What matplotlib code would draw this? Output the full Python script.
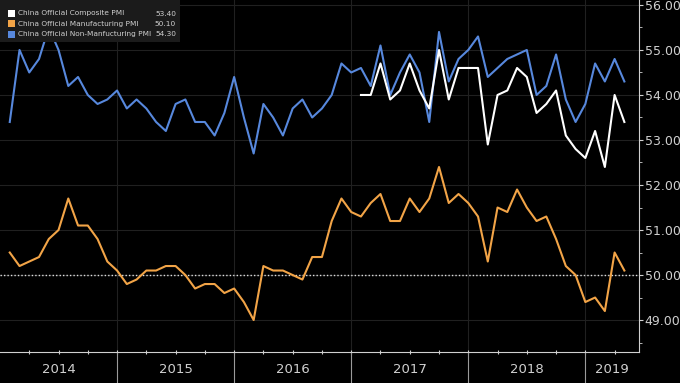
"""China official PMI readings, 2014 - Apr 2019 (Bloomberg style)."""
import numpy as np
import matplotlib
matplotlib.use("Agg")
import matplotlib.pyplot as plt
import matplotlib.transforms as mtransforms
from matplotlib.patches import Rectangle

# monthly readings, Jan 2014 .. Apr 2019
non_manufacturing = [
    53.4, 55.0, 54.5, 54.8, 55.5, 55.0, 54.2, 54.4, 54.0, 53.8, 53.9, 54.1,
    53.7, 53.9, 53.7, 53.4, 53.2, 53.8, 53.9, 53.4, 53.4, 53.1, 53.6, 54.4,
    53.5, 52.7, 53.8, 53.5, 53.1, 53.7, 53.9, 53.5, 53.7, 54.0, 54.7, 54.5,
    54.6, 54.2, 55.1, 54.0, 54.5, 54.9, 54.5, 53.4, 55.4, 54.3, 54.8, 55.0,
    55.3, 54.4, 54.6, 54.8, 54.9, 55.0, 54.0, 54.2, 54.9, 53.9, 53.4, 53.8,
    54.7, 54.3, 54.8, 54.3,
]
manufacturing = [
    50.5, 50.2, 50.3, 50.4, 50.8, 51.0, 51.7, 51.1, 51.1, 50.8, 50.3, 50.1,
    49.8, 49.9, 50.1, 50.1, 50.2, 50.2, 50.0, 49.7, 49.8, 49.8, 49.6, 49.7,
    49.4, 49.0, 50.2, 50.1, 50.1, 50.0, 49.9, 50.4, 50.4, 51.2, 51.7, 51.4,
    51.3, 51.6, 51.8, 51.2, 51.2, 51.7, 51.4, 51.7, 52.4, 51.6, 51.8, 51.6,
    51.3, 50.3, 51.5, 51.4, 51.9, 51.5, 51.2, 51.3, 50.8, 50.2, 50.0, 49.4,
    49.5, 49.2, 50.5, 50.1,
]
# composite only published from Jan 2017
composite = [
    54.0, 54.0, 54.7, 53.9, 54.1, 54.7, 54.1, 53.7, 55.0, 53.9, 54.6, 54.6,
    54.6, 52.9, 54.0, 54.1, 54.6, 54.4, 53.6, 53.8, 54.1, 53.1, 52.8, 52.6,
    53.2, 52.4, 54.0, 53.4,
]
years = ["2014", "2015", "2016", "2017", "2018", "2019"]
y_ticks = [49, 50, 51, 52, 53, 54, 55, 56]

WHITE = "#ffffff"
ORANGE = "#f2a447"
BLUE = "#5788dd"
GRID = "#202020"
TXT = "#d0d0d0"

months = np.arange(1, len(non_manufacturing) + 1)
comp_months = months[len(months) - len(composite):]

fig = plt.figure(figsize=(6.8, 3.83), dpi=100, facecolor="black")
ax = fig.add_axes([0.0, 31 / 383, 639 / 680, 352 / 383])
ax.set_facecolor("black")

ax.plot(comp_months, composite, color=WHITE, lw=1.5, zorder=4)
ax.plot(months, manufacturing, color=ORANGE, lw=1.5, zorder=3)
ax.plot(months, non_manufacturing, color=BLUE, lw=1.5, zorder=3)
ax.axhline(50, color="#dddddd", lw=1.0, ls=(0, (1, 1.5)), zorder=2)

ax.set_xlim(0, 65.5)
ax.set_ylim(48.29, 56.11)

# grid
for v in y_ticks:
    ax.axhline(v, color=GRID, lw=0.8, zorder=1)
for b in range(12, 66, 12):
    ax.axvline(b, color=GRID, lw=0.8, zorder=1)

# right axis
ax.yaxis.tick_right()
ax.set_yticks(y_ticks)
ax.set_yticks(np.arange(48.5, 56.1, 1.0), minor=True)
ax.set_yticklabels([f"{v:.2f}" for v in y_ticks])
ax.tick_params(axis="y", which="major", colors=TXT, labelsize=9, length=3,
               direction="out", pad=1, labelcolor=TXT)
ax.tick_params(axis="y", which="minor", colors=TXT, length=2, direction="out")

# bottom axis: quarterly ticks, year separators and labels
ax.set_xticks(np.arange(3, 66, 3))
ax.set_xticklabels([])
ax.tick_params(axis="x", which="major", colors=TXT, length=3, direction="inout")

for s in ["left", "top"]:
    ax.spines[s].set_visible(False)
ax.spines["right"].set_color(TXT)
ax.spines["bottom"].set_color(TXT)

trans = mtransforms.blended_transform_factory(ax.transData, ax.transAxes)
for b in range(12, 66, 12):
    ax.plot([b, b], [0, -0.09], color="#9a9a9a", lw=0.8, transform=trans,
            clip_on=False)
bounds = [0, 12, 24, 36, 48, 60, 65.5]
for i, yr in enumerate(years):
    mid = (bounds[i] + bounds[i + 1]) / 2
    ax.text(mid, -0.051, yr, color=TXT, fontsize=9.5, ha="center",
            va="center", transform=trans)

# legend box
fig.patches.append(Rectangle((0, 1 - 42 / 383), 180 / 680, 42 / 383,
                             transform=fig.transFigure, facecolor="#1b1b1b",
                             edgecolor="none", zorder=5))
entries = [
    ("China Official Composite PMI", composite[-1], WHITE),
    ("China Official Manufacturing PMI", manufacturing[-1], ORANGE),
    ("China Official Non-Manfucturing PMI", non_manufacturing[-1], BLUE),
]
for i, (name, val, col) in enumerate(entries):
    yp = 1 - (13.5 + 10.3 * i) / 383
    fig.patches.append(Rectangle((8 / 680, yp - 3.5 / 383), 7 / 680, 7 / 383,
                                 transform=fig.transFigure, facecolor=col,
                                 edgecolor="none", zorder=6))
    fig.text(18 / 680, yp, name, color=TXT, fontsize=5.3, va="center",
             ha="left", zorder=7)
    fig.text(176 / 680, yp, f"{val:.2f}", color=TXT, fontsize=5.3,
             va="center", ha="right", zorder=7)

fig.savefig("out.png", dpi=100, facecolor="black")
